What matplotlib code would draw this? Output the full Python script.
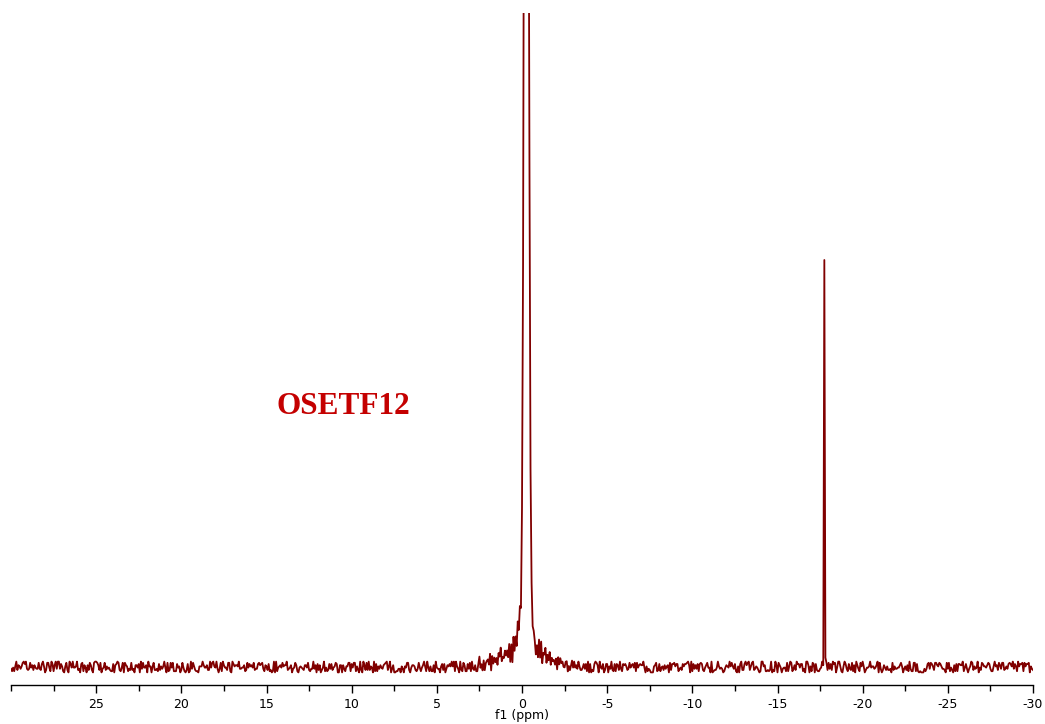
import numpy as np
import matplotlib
matplotlib.use('Agg')
import matplotlib.pyplot as plt
from matplotlib.ticker import MultipleLocator

plt.rcParams['axes.unicode_minus'] = False
plt.rcParams['font.family'] = ['DejaVu Sans']

# baseline noise, one digit per 0.0625 ppm sample from 30 to -30 ppm
# (digit 0..9 -> -5.4..+5.4 intensity units)
noise_digits = (
    "3141592653589793238462643383279502884197169399375105820974944592307816406286208998"
    "6280348253421170679821480865132823066470938446095505822317253594081284811174502841"
    "0270193852110555964462294895493038196442881097566593344612847564823378678316527120"
    "1909145648566923460348610454326648213393607260249141273724587006606315588174881520"
    "9209628292540917153643678925903600113305305488204665213841469519415116094330572703"
    "6575959195309218611738193261179310511854807446237996274956735188575272489122793818"
    "3011949129833673362440656643086021394946395224737190702179860943702770539217176293"
    "1767523846748184676694051320005681271452635608277857713427577896091736371787214684"
    "4090122495343014654958537105079227968925892354201995611212902196086403441815981362"
    "9774771309960518707211349179828372978049951059731732816096318595024459455346908302"
    "6425223082533446850352619311881710100031378387528865875332083814206171776691473035"
    "9825349042875546873115956286388235378759375195778185778053217122680661300192787661"
)
n_points = 961

# main signal near 0 ppm, one value per sample from 2.5 to -3.0 ppm
hump_from = 2.5
hump_height = [
    5, 1, 7, 2, 6, 1, 8, 2,
    7, 3, 9, 2, 8, 4, 10, 3,
    12, 4, 11, 5, 14, 4, 13, 6,
    17, 6, 16, 8, 20, 7, 22, 9,
    26, 12, 30, 18, 45, 40, 58, 62,
    160, 400, 900, 1500, 2000, 1500, 900, 500,
    200, 80, 45, 32, 28, 18, 26, 14,
    22, 10, 20, 8, 17, 7, 15, 6,
    14, 5, 12, 4, 11, 4, 10, 3,
    9, 3, 8, 2, 7, 2, 6, 2,
    5, 1, 4, 1, 4, 1, 3, 1,
    0,
]

# sharp line at -17.75 ppm
line_ppm = [-17.6875, -17.75, -17.8125]
line_height = [6, 404, 4]

ppm = np.linspace(30, -30, n_points)
intensity = (np.array([int(c) for c in noise_digits[:n_points]], dtype=float) - 4.5) * 1.2
i0 = np.argmin(np.abs(ppm - hump_from))
intensity[i0:i0 + len(hump_height)] += hump_height
for p, h in zip(line_ppm, line_height):
    intensity[np.argmin(np.abs(ppm - p))] += h

fig = plt.figure(figsize=(10.45, 7.24), dpi=100)
ax = fig.add_axes([11/1045, 39/724, 1022/1045, 672/724])
ax.plot(ppm, intensity, color='#800000', lw=1.3)

ax.set_xlim(30, -30)
ax.set_ylim(-18, 654)
ax.set_xticks([25, 20, 15, 10, 5, 0, -5, -10, -15, -20, -25, -30])
ax.xaxis.set_minor_locator(MultipleLocator(2.5))
ax.tick_params(axis='x', which='major', length=6, width=1, labelsize=9, pad=3)
ax.tick_params(axis='x', which='minor', length=4, width=1)
ax.set_yticks([])
for side in ['top', 'left', 'right']:
    ax.spines[side].set_visible(False)
ax.spines['bottom'].set_linewidth(1)
ax.set_xlabel('f1 (ppm)', fontsize=9, labelpad=-1)

ax.text(10.47, 261, 'OSETF12', color='#C40000', fontsize=22.5, fontweight='bold',
        family='Liberation Serif', ha='center', va='center')

fig.savefig('out.png', dpi=100)
